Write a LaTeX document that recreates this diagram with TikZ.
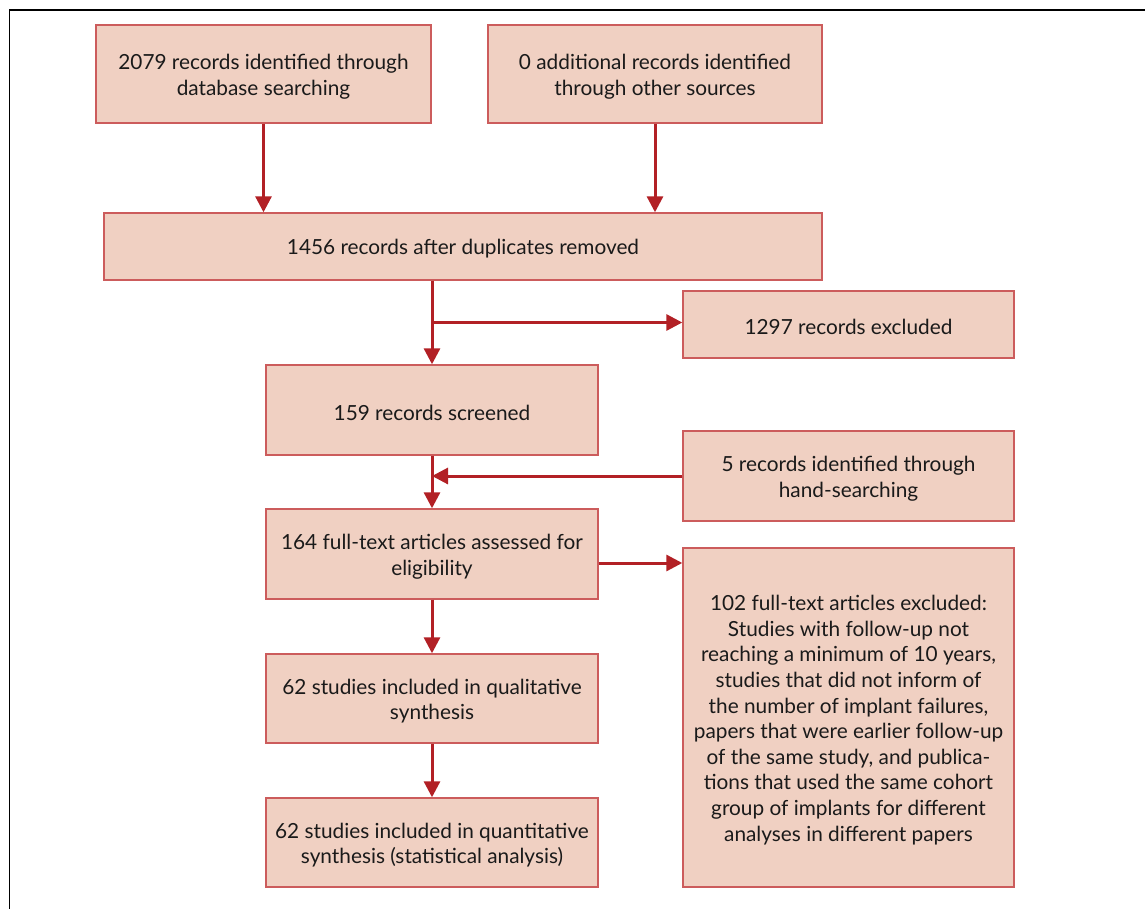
\documentclass[tikz,border=0pt]{standalone}
\usepackage{fontspec}
\setmainfont{Lato}
\usetikzlibrary{arrows.meta,calc}
\definecolor{boxfill}{HTML}{F0D0C2}
\definecolor{boxline}{HTML}{CC5C5C}
\definecolor{arrred}{HTML}{B22025}
\definecolor{txt}{HTML}{1A1A1A}
\tikzset{
  flowbox/.style={draw=boxline, line width=1.4pt, fill=boxfill, inner sep=0pt},
  boxtext/.style={align=center, text=txt, inner sep=0pt, yshift=-2.5pt,
    font=\fontsize{20.8}{25.6}\selectfont},
  arr/.style={draw=arrred, line width=3pt, -{Triangle[length=16pt,width=16pt]}, shorten >=0pt}
}
\begin{document}
\begin{tikzpicture}[x=1pt,y=-1pt]
\useasboundingbox (0,0) rectangle (1145,909);
\draw[line width=1.5pt] (9.5,909) -- (9.5,10) -- (1145,10);

\node[flowbox, minimum width=335pt, minimum height=98pt,
  label={[boxtext]center:{2079 records identified through\\database searching}}] (A) at (263.5,74) {};
\node[flowbox, minimum width=334pt, minimum height=98pt,
  label={[boxtext]center:{0 additional records identified\\through other sources}}] (B) at (655,74) {};
\node[flowbox, minimum width=718pt, minimum height=67pt,
  label={[boxtext]center:{1456 records after duplicates removed}}] (C) at (463,246.5) {};
\node[flowbox, minimum width=331pt, minimum height=67pt,
  label={[boxtext]center:{1297 records excluded}}] (D) at (848.5,324.5) {};
\node[flowbox, minimum width=332pt, minimum height=90pt,
  label={[boxtext]center:{159 records screened}}] (E) at (432,410) {};
\node[flowbox, minimum width=331pt, minimum height=90pt,
  label={[boxtext]center:{5 records identified through\\hand-searching}}] (F) at (848.5,476) {};
\node[flowbox, minimum width=332pt, minimum height=90pt,
  label={[boxtext]center:{164 full-text articles assessed for\\eligibility}}] (G) at (432,554) {};
\node[flowbox, minimum width=331pt, minimum height=339pt,
  label={[boxtext]center:{102 full-text articles excluded:\\Studies with follow-up not\\reaching a minimum of 10 years,\\studies that did not inform of\\the number of implant failures,\\papers that were earlier follow-up\\of the same study, and publica-\\tions that used the same cohort\\group of implants for different\\analyses in different papers}}] (H) at (848.5,717.5) {};
\node[flowbox, minimum width=332pt, minimum height=89pt,
  label={[boxtext]center:{62 studies included in qualitative\\synthesis}}] (I) at (432,698.5) {};
\node[flowbox, minimum width=332pt, minimum height=89pt,
  label={[boxtext]center:{62 studies included in quantitative\\synthesis (statistical analysis)}}] (J) at (432,842.5) {};

\coordinate (a1) at (A.south |- C.north);
\coordinate (b1) at (B.south |- C.north);
\coordinate (c1) at (C.south -| E.north);
\coordinate (br) at ($(c1)!0.5!(E.north)$);
\coordinate (brD) at (br -| D.west);
\coordinate (fE) at (F.west -| E.south);
\coordinate (g1) at ([yshift=-9pt]G.east);
\coordinate (h1) at (g1 -| H.west);

\draw[arr] (A.south) -- (a1);
\draw[arr] (B.south) -- (b1);
\draw[arr] (c1) -- (E.north);
\draw[arr] (br) -- (brD);
\draw[arr] (F.west) -- (fE);
\draw[arr] (E.south) -- (G.north);
\draw[arr] (g1) -- (h1);
\draw[arr] (G.south) -- (I.north);
\draw[arr] (I.south) -- (J.north);
\end{tikzpicture}
\end{document}
